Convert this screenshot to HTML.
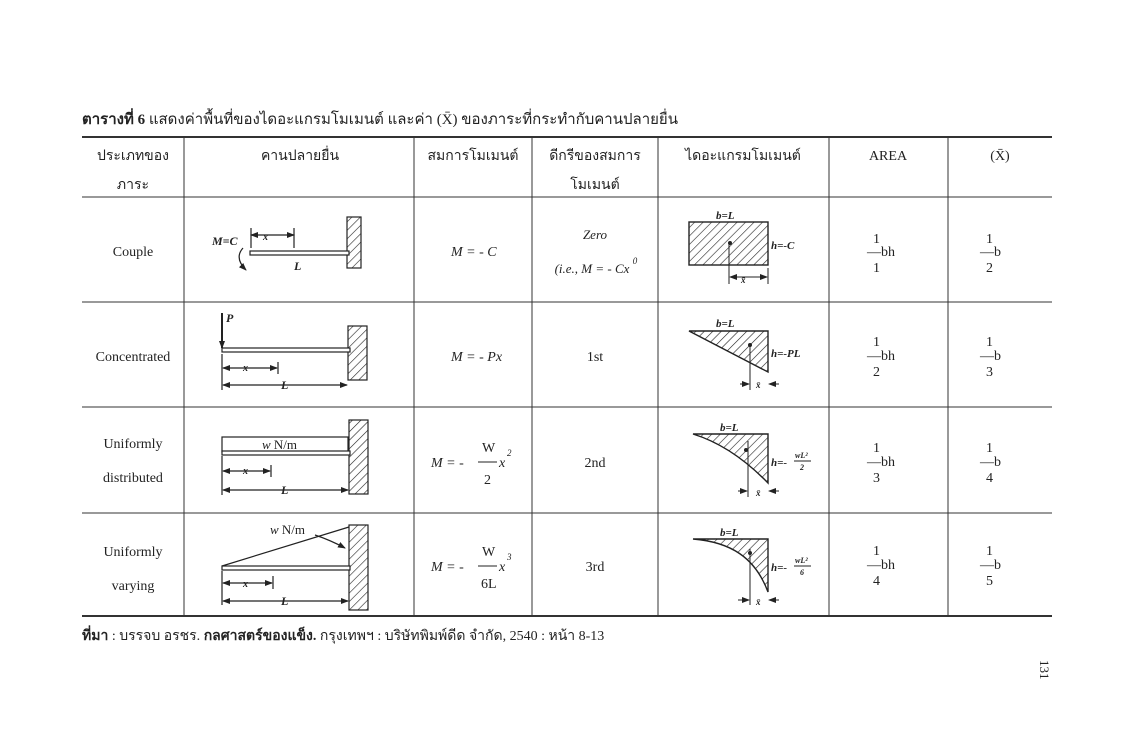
<!DOCTYPE html>
<html><head><meta charset="utf-8">
<style>
html,body{margin:0;padding:0;background:#fff;}
svg{display:block;}
text{font-family:"Liberation Serif","DejaVu Serif",serif;fill:#222;}
.t{font-size:14px;}
.i{font-style:italic;}
.b{font-weight:bold;}
</style></head><body>
<svg width="1136" height="733" viewBox="0 0 1136 733" xmlns="http://www.w3.org/2000/svg">
<defs>
<pattern id="h" patternUnits="userSpaceOnUse" width="6" height="6" patternTransform="rotate(45)">
<line x1="0" y1="0" x2="0" y2="6" stroke="#222" stroke-width="1.2"/>
</pattern>
<marker id="a" markerWidth="8" markerHeight="6" refX="7" refY="3" orient="auto" markerUnits="userSpaceOnUse">
<path d="M0,0 L8,3 L0,6 z" fill="#222"/></marker>
<marker id="s" markerWidth="8" markerHeight="6" refX="1" refY="3" orient="auto" markerUnits="userSpaceOnUse">
<path d="M8,0 L0,3 L8,6 z" fill="#222"/></marker>
</defs>

<text x="82" y="124" font-size="15"><tspan class="b">ตารางที่ 6</tspan> แสดงค่าพื้นที่ของไดอะแกรมโมเมนต์ และค่า (X̄) ของภาระที่กระทำกับคานปลายยื่น</text>

<g stroke="#333" fill="none">
<line x1="82" y1="137" x2="1052" y2="137" stroke-width="2"/>
<line x1="82" y1="197" x2="1052" y2="197" stroke-width="1"/>
<line x1="82" y1="302" x2="1052" y2="302" stroke-width="1"/>
<line x1="82" y1="407" x2="1052" y2="407" stroke-width="1"/>
<line x1="82" y1="513" x2="1052" y2="513" stroke-width="1"/>
<line x1="82" y1="616" x2="1052" y2="616" stroke-width="2"/>
<line x1="184" y1="137" x2="184" y2="616"/>
<line x1="414" y1="137" x2="414" y2="616"/>
<line x1="532" y1="137" x2="532" y2="616"/>
<line x1="658" y1="137" x2="658" y2="616"/>
<line x1="829" y1="137" x2="829" y2="616"/>
<line x1="948" y1="137" x2="948" y2="616"/>
</g>

<g class="t" text-anchor="middle">
<text x="133" y="160">ประเภทของ</text>
<text x="133" y="189">ภาระ</text>
<text x="300" y="160">คานปลายยื่น</text>
<text x="473" y="160">สมการโมเมนต์</text>
<text x="595" y="160">ดีกรีของสมการ</text>
<text x="595" y="189">โมเมนต์</text>
<text x="743" y="160">ไดอะแกรมโมเมนต์</text>
<text x="888" y="160">AREA</text>
<text x="1000" y="160">(X̄)</text>
</g>

<g class="t" text-anchor="middle">
<text x="133" y="256">Couple</text>
<text x="133" y="361">Concentrated</text>
<text x="133" y="448">Uniformly</text>
<text x="133" y="482">distributed</text>
<text x="133" y="556">Uniformly</text>
<text x="133" y="590">varying</text>
</g>

<g class="t i">
<text x="451" y="256">M = - C</text>
<text x="451" y="361">M = - Px</text>
<text x="431" y="467">M = -</text><text x="482" y="452" class="t" font-style="normal">W</text>
<line x1="478" y1="462" x2="497" y2="462" stroke="#222"/>
<text x="484" y="484" font-style="normal">2</text><text x="499" y="467">x</text><text x="507" y="456" font-size="9">2</text>
<text x="431" y="571">M = -</text><text x="482" y="556" font-style="normal">W</text>
<line x1="478" y1="566" x2="497" y2="566" stroke="#222"/>
<text x="481" y="588" font-style="normal">6L</text><text x="499" y="571">x</text><text x="507" y="560" font-size="9">3</text>
</g>

<g class="t" text-anchor="middle">
<text x="595" y="239" class="i" font-size="13">Zero</text>
<text x="592" y="273" class="i" font-size="13">(i.e., M = - Cx</text>
<text x="635" y="264" font-size="9" font-style="italic">0</text>
<text x="595" y="361">1st</text>
<text x="595" y="467">2nd</text>
<text x="595" y="571">3rd</text>
</g>

<g class="t">
<text x="873" y="243">1</text><text x="867" y="256">—bh</text><text x="873" y="272">1</text>
<text x="986" y="243">1</text><text x="980" y="256">—b</text><text x="986" y="272">2</text>
<text x="873" y="346">1</text><text x="867" y="360">—bh</text><text x="873" y="376">2</text>
<text x="986" y="346">1</text><text x="980" y="360">—b</text><text x="986" y="376">3</text>
<text x="873" y="452">1</text><text x="867" y="466">—bh</text><text x="873" y="482">3</text>
<text x="986" y="452">1</text><text x="980" y="466">—b</text><text x="986" y="482">4</text>
<text x="873" y="555">1</text><text x="867" y="569">—bh</text><text x="873" y="585">4</text>
<text x="986" y="555">1</text><text x="980" y="569">—b</text><text x="986" y="585">5</text>
</g>

<g stroke="#222" fill="none" stroke-width="1.2">
<rect x="347" y="217" width="14" height="51" fill="url(#h)"/>
<rect x="250" y="251" width="99" height="4" fill="#fff"/>
<line x1="251" y1="228" x2="251" y2="248"/><line x1="294" y1="228" x2="294" y2="248"/>
<line x1="251" y1="235" x2="294" y2="235" marker-start="url(#s)" marker-end="url(#a)"/>
<path d="M243,248 Q234,258 246,270" marker-end="url(#a)"/>
<rect x="348" y="326" width="19" height="54" fill="url(#h)"/>
<rect x="222" y="348" width="128" height="4" fill="#fff"/>
<line x1="222" y1="313" x2="222" y2="348" stroke-width="2" marker-end="url(#a)"/>
<line x1="222" y1="354" x2="222" y2="390"/><line x1="278" y1="362" x2="278" y2="374"/>
<line x1="223" y1="368" x2="277" y2="368" marker-start="url(#s)" marker-end="url(#a)"/>
<line x1="223" y1="385" x2="347" y2="385" marker-start="url(#s)" marker-end="url(#a)"/>
<rect x="349" y="420" width="19" height="74" fill="url(#h)"/>
<rect x="222" y="437" width="126" height="15"/>
<rect x="222" y="451" width="128" height="4" fill="#fff"/>
<line x1="222" y1="456" x2="222" y2="495"/><line x1="271" y1="465" x2="271" y2="477"/>
<line x1="223" y1="471" x2="270" y2="471" marker-start="url(#s)" marker-end="url(#a)"/>
<line x1="223" y1="490" x2="348" y2="490" marker-start="url(#s)" marker-end="url(#a)"/>
<rect x="349" y="525" width="19" height="85" fill="url(#h)"/>
<line x1="222" y1="566" x2="349" y2="527"/>
<rect x="222" y="566" width="128" height="4" fill="#fff"/>
<path d="M315,535 Q330,540 345,548" marker-end="url(#a)"/>
<line x1="222" y1="571" x2="222" y2="605"/><line x1="273" y1="576" x2="273" y2="589"/>
<line x1="223" y1="583" x2="272" y2="583" marker-start="url(#s)" marker-end="url(#a)"/>
<line x1="223" y1="601" x2="348" y2="601" marker-start="url(#s)" marker-end="url(#a)"/>
</g>
<g font-size="12" class="i b">
<text x="212" y="245">M=C</text>
<text x="294" y="270">L</text>
<text x="226" y="322">P</text>
<text x="243" y="371" font-size="10">x</text>
<text x="281" y="389">L</text>
<text x="262" y="449" font-weight="normal" font-style="normal" font-size="13"><tspan font-style="italic">w</tspan> N/m</text>
<text x="243" y="474" font-size="10">x</text>
<text x="281" y="494">L</text>
<text x="270" y="534" font-weight="normal" font-style="normal" font-size="13"><tspan font-style="italic">w</tspan> N/m</text>
<text x="243" y="587" font-size="10">x</text>
<text x="281" y="605">L</text>
<text x="263" y="240" font-size="10">x</text>
</g>

<g stroke="#222" fill="none" stroke-width="1.4">
<rect x="689" y="222" width="79" height="43" fill="url(#h)"/>
<line x1="729" y1="243" x2="729" y2="284" stroke-width="1"/><line x1="768" y1="268" x2="768" y2="284" stroke-width="1"/>
<line x1="730" y1="277" x2="767" y2="277" stroke-width="1" marker-start="url(#s)" marker-end="url(#a)"/>

<path d="M689,331 L768,331 L768,372 Z" fill="url(#h)"/>
<line x1="750" y1="345" x2="750" y2="390" stroke-width="1"/>
<line x1="740" y1="384" x2="749" y2="384" stroke-width="1" marker-end="url(#a)"/>
<line x1="779" y1="384" x2="769" y2="384" stroke-width="1" marker-end="url(#a)"/>

<path d="M693,434 L768,434 L768,483 Q732,446 693,434 Z" fill="url(#h)"/>
<line x1="748" y1="441" x2="748" y2="497" stroke-width="1"/>
<line x1="738" y1="491" x2="747" y2="491" stroke-width="1" marker-end="url(#a)"/>
<line x1="779" y1="491" x2="769" y2="491" stroke-width="1" marker-end="url(#a)"/>

<path d="M693,539 L768,539 L768,592 C755,557 730,542 693,539 Z" fill="url(#h)"/>
<line x1="750" y1="549" x2="750" y2="605" stroke-width="1"/>
<line x1="738" y1="600" x2="749" y2="600" stroke-width="1" marker-end="url(#a)"/>
<line x1="779" y1="600" x2="769" y2="600" stroke-width="1" marker-end="url(#a)"/>
</g>
<g fill="#222">
<circle cx="730" cy="243" r="2"/><circle cx="750" cy="345" r="2"/><circle cx="746" cy="450" r="2"/><circle cx="750" cy="553" r="2"/>
</g>
<g font-size="11" class="i b">
<text x="716" y="219">b=L</text>
<text x="771" y="249">h=-C</text>
<text x="741" y="283" font-size="9">x̄</text>
<text x="716" y="327">b=L</text>
<text x="771" y="357">h=-PL</text>
<text x="756" y="388" font-size="9">x̄</text>
<text x="720" y="431">b=L</text>
<text x="771" y="466">h=-</text><text x="795" y="458" font-size="8">wL²</text>
<line x1="794" y1="461" x2="811" y2="461" stroke="#222"/><text x="800" y="470" font-size="8">2</text>
<text x="756" y="496" font-size="9">x̄</text>
<text x="720" y="536">b=L</text>
<text x="771" y="571">h=-</text><text x="795" y="563" font-size="8">wL²</text>
<line x1="794" y1="566" x2="811" y2="566" stroke="#222"/><text x="800" y="575" font-size="8">6</text>
<text x="756" y="605" font-size="9">x̄</text>
</g>

<text x="82" y="640" font-size="14"><tspan class="b">ที่มา</tspan> : บรรจบ อรชร. <tspan class="b">กลศาสตร์ของแข็ง.</tspan> กรุงเทพฯ : บริษัทพิมพ์ดีด จำกัด, 2540 : หน้า 8-13</text>

<text x="1040" y="660" font-size="13" transform="rotate(90 1040 660)">131</text>
</svg>
</body></html>
